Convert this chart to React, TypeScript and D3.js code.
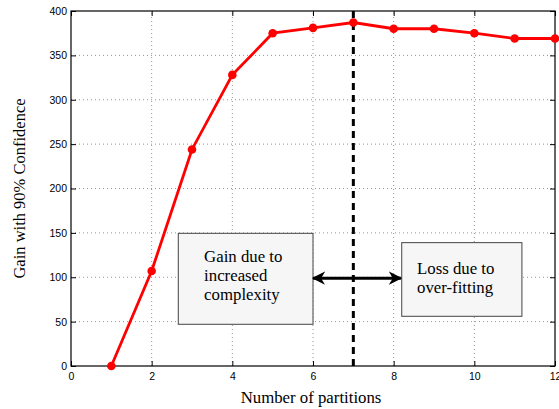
import { useEffect, useRef } from "react";
import * as d3 from "d3";

const width = 559;
const height = 409;
const margin = { top: 11, right: 4, bottom: 43, left: 71 };

const partitions = [1, 2, 3, 4, 5, 6, 7, 8, 9, 10, 11, 12];
const gain = [0, 107, 244, 328, 375, 381, 387, 380, 380, 375, 369, 369];
const xTicks = [0, 2, 4, 6, 8, 10, 12];
const yTicks = [0, 50, 100, 150, 200, 250, 300, 350, 400];
const bestPartition = 7;

const serif = "Liberation Serif, Times New Roman, serif";

const App = () => {
  const svgRef = useRef<SVGSVGElement | null>(null);

  useEffect(() => {
    if (!svgRef.current) return;
    const svg = d3.select(svgRef.current);
    svg.selectAll("*").remove();

    const x = d3.scaleLinear().domain([0, 12]).range([margin.left, width - margin.right]);
    const y = d3.scaleLinear().domain([0, 400]).range([height - margin.bottom, margin.top]);
    const [x0, x1] = x.range();
    const [y0, y1] = y.range();

    svg.append("rect").attr("width", width).attr("height", height).attr("fill", "#fff");

    // dotted grid
    const grid = svg.append("g").attr("stroke", "#777").attr("stroke-width", 0.8).attr("stroke-dasharray", "1,3");
    xTicks.slice(1, -1).forEach(t => {
      grid.append("line").attr("x1", x(t)).attr("x2", x(t)).attr("y1", y0).attr("y2", y1);
    });
    yTicks.slice(1, -1).forEach(t => {
      grid.append("line").attr("x1", x0).attr("x2", x1).attr("y1", y(t)).attr("y2", y(t));
    });

    // axes, ticks pointing inward on all four sides
    svg.append("g").attr("transform", `translate(0,${y0})`)
      .call(d3.axisBottom(x).tickValues(xTicks).tickSize(-5).tickPadding(7))
      .call(g => g.select(".domain").remove());
    svg.append("g").attr("transform", `translate(0,${y1})`)
      .call(d3.axisTop(x).tickValues(xTicks).tickSize(-5).tickFormat(() => ""))
      .call(g => g.select(".domain").remove());
    svg.append("g").attr("transform", `translate(${x0},0)`)
      .call(d3.axisLeft(y).tickValues(yTicks).tickSize(-5).tickPadding(4))
      .call(g => g.select(".domain").remove());
    svg.append("g").attr("transform", `translate(${x1},0)`)
      .call(d3.axisRight(y).tickValues(yTicks).tickSize(-5).tickFormat(() => ""))
      .call(g => g.select(".domain").remove());
    svg.selectAll(".tick text").attr("font-family", "Liberation Sans, Arial, sans-serif").attr("font-size", 10.5).attr("fill", "#000");
    svg.selectAll(".tick line").attr("stroke", "#000");

    svg.append("rect").attr("x", x0).attr("y", y1).attr("width", x1 - x0).attr("height", y0 - y1)
      .attr("fill", "none").attr("stroke", "#000").attr("stroke-width", 1.2);

    // boxes
    const boxes = [
      { x: [2.66, 6.0], y: [47, 149.5], lines: ["Gain due to", "increased", "complexity"], tx: 3.3, ty: 117 },
      { x: [8.2, 11.18], y: [56, 139], lines: ["Loss due to", "over-fitting"], tx: 8.58, ty: 103.5 },
    ];
    boxes.forEach(b => {
      svg.append("rect").attr("x", x(b.x[0])).attr("y", y(b.y[1]))
        .attr("width", x(b.x[1]) - x(b.x[0])).attr("height", y(b.y[0]) - y(b.y[1]))
        .attr("fill", "#f6f6f6").attr("stroke", "#444").attr("stroke-width", 1);
      svg.append("text").attr("x", x(b.tx)).attr("y", y(b.ty))
        .attr("font-family", serif).attr("font-size", 16.8)
        .selectAll("tspan").data(b.lines).enter().append("tspan")
        .attr("x", x(b.tx)).attr("dy", (_, i) => (i === 0 ? 0 : 19)).text(d => d);
    });

    // double arrow
    const defs = svg.append("defs");
    defs.append("marker").attr("id", "ah").attr("viewBox", "0 0 10 10").attr("refX", 9).attr("refY", 5)
      .attr("markerWidth", 4.5).attr("markerHeight", 4.5).attr("orient", "auto-start-reverse")
      .append("path").attr("d", "M0,0 L10,5 L0,10 L3,5 Z").attr("fill", "#000");
    svg.append("line").attr("x1", x(6.0)).attr("x2", x(8.18)).attr("y1", y(99)).attr("y2", y(99))
      .attr("stroke", "#000").attr("stroke-width", 3)
      .attr("marker-start", "url(#ah)").attr("marker-end", "url(#ah)");

    // dashed best partition line
    svg.append("line").attr("x1", x(bestPartition)).attr("x2", x(bestPartition)).attr("y1", y0).attr("y2", y1)
      .attr("stroke", "#000").attr("stroke-width", 3).attr("stroke-dasharray", "7,5");

    // series
    const pts = partitions.map((p, i) => [p, gain[i]] as [number, number]);
    const line = d3.line<[number, number]>().x(d => x(d[0])).y(d => y(d[1]));
    svg.append("path").attr("d", line(pts)).attr("fill", "none").attr("stroke", "#ff0000").attr("stroke-width", 2.8);
    svg.selectAll(".pt").data(pts).enter().append("circle").attr("class", "pt")
      .attr("cx", d => x(d[0])).attr("cy", d => y(d[1])).attr("r", 4.3).attr("fill", "#ff0000");

    // axis titles
    svg.append("text").attr("x", (x0 + x1) / 2 - 2).attr("y", 403).attr("text-anchor", "middle")
      .attr("font-family", serif).attr("font-size", 16.8)
      .text("Number of partitions");
    svg.append("text").attr("transform", `translate(25,${(y0 + y1) / 2}) rotate(-90)`).attr("text-anchor", "middle")
      .attr("font-family", serif).attr("font-size", 16.5)
      .text("Gain with 90% Confidence");
  }, []);

  return (
    <svg ref={svgRef} width={width} height={height} viewBox={`0 0 ${width} ${height}`}
      style={{ position: "absolute", left: 0, top: 0 }} />
  );
};

export default App;
